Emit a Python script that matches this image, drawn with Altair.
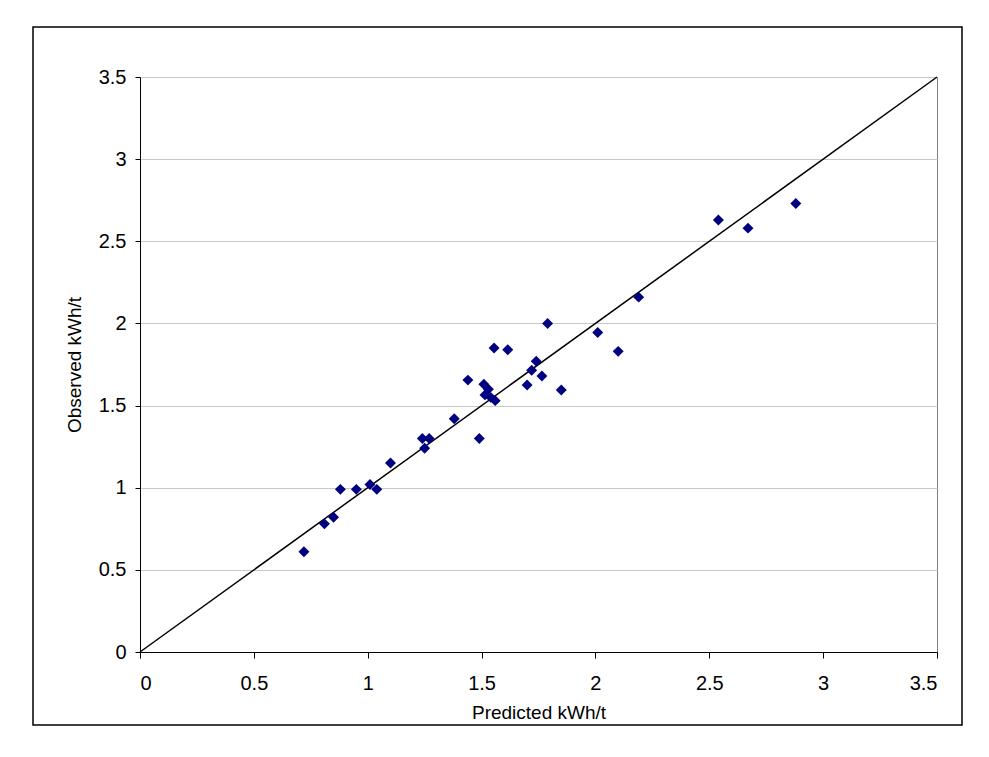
import altair as alt
import pandas as pd

# Data
predicted = [0.72, 0.81, 0.85, 0.88, 0.95, 1.01, 1.04, 1.10, 1.24, 1.27,
             1.25, 1.38, 1.49, 1.44, 1.51, 1.53, 1.515, 1.54, 1.56, 1.555,
             1.615, 1.70, 1.72, 1.74, 1.765, 1.85, 1.79, 2.01, 2.10, 2.19,
             2.54, 2.67, 2.88]
observed = [0.61, 0.78, 0.82, 0.99, 0.99, 1.02, 0.99, 1.15, 1.30, 1.30,
            1.24, 1.42, 1.30, 1.655, 1.63, 1.60, 1.565, 1.55, 1.53, 1.85,
            1.84, 1.625, 1.715, 1.77, 1.68, 1.595, 2.0, 1.945, 1.83, 2.16,
            2.63, 2.58, 2.73]
line_x = [0, 3.5]
line_y = [0, 3.5]
ticks = [0, 0.5, 1, 1.5, 2, 2.5, 3, 3.5]

FONT = "Liberation Sans"

pts = pd.DataFrame({"Predicted": predicted, "Observed": observed})
ref = pd.DataFrame({"Predicted": line_x, "Observed": line_y})

xscale = alt.Scale(domain=[0, 3.5], nice=False, zero=True)
yscale = alt.Scale(domain=[0, 3.5], nice=False, zero=True)

xaxis = alt.Axis(values=ticks, format="~g", title="Predicted kWh/t", grid=False,
                 domainColor="black", tickColor="black", tickSize=6,
                 labelPadding=15, labelFontSize=20, labelFont=FONT, labelColor="black",
                 titleFont=FONT, titleFontSize=19, titleFontWeight="normal",
                 titleColor="black", titleBaseline="alphabetic", titleY=66)
yaxis = alt.Axis(values=ticks, format="~g", title="Observed kWh/t", grid=True,
                 gridColor="#c8c8c8", domainColor="black", tickColor="black",
                 tickSize=5, labelPadding=9, labelFontSize=20, labelFont=FONT,
                 labelColor="black", titleFont=FONT, titleFontSize=19,
                 titleFontWeight="normal", titleColor="black",
                 titleBaseline="alphabetic", titleX=-60, titleY=287.5)

frame = alt.Chart(pd.DataFrame({"a": [0]})).mark_rect(
    fill=None, stroke="black", strokeWidth=1.5, clip=False
).encode(
    x=alt.value(-107), x2=alt.value(822), y=alt.value(-50), y2=alt.value(648)
)

line = alt.Chart(ref).mark_line(color="black", strokeWidth=1.5).encode(
    x=alt.X("Predicted:Q", scale=xscale, axis=xaxis),
    y=alt.Y("Observed:Q", scale=yscale, axis=yaxis),
)

points = alt.Chart(pts).mark_point(
    shape="diamond", filled=True, color="#000080", opacity=1, size=120
).encode(
    x=alt.X("Predicted:Q", scale=xscale),
    y=alt.Y("Observed:Q", scale=yscale),
)

chart = alt.layer(frame, line, points).properties(
    width=797, height=575,
    autosize=alt.AutoSizeParams(type="none"),
    padding={"left": 140, "top": 77, "right": 52, "bottom": 105},
    background="white",
).configure_view(stroke="#808080", strokeWidth=1)

chart.save("out.html", embed_options={"renderer": "svg", "actions": False})
